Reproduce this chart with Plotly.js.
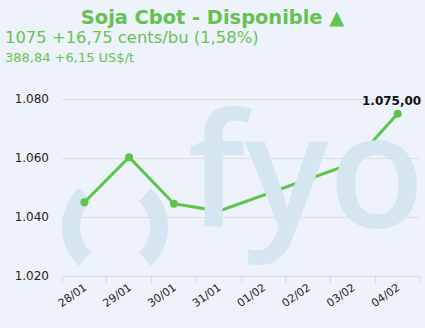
<!DOCTYPE html>
<html><head><meta charset="utf-8">
<script src="https://cdn.plot.ly/plotly-3.0.1.min.js"></script>
<style>html,body{margin:0;padding:0;background:#eef2fa}</style>
</head><body><div id="chart" style="width:425px;height:328px"></div>
<script>
const categories = ['28/01','29/01','30/01','31/01','01/02','02/02','03/02','04/02'];
const dates = ['28/01','29/01','30/01','31/01','03/02','04/02'];
const prices = [1045, 1060.25, 1044.5, 1042, 1058.25, 1075];
const yTicks = [1020, 1040, 1060, 1080];
const titleText = 'Soja Cbot - Disponible ▲';
const subLine1 = '1075 +16,75 cents/bu (1,58%)';
const subLine2 = '388,84 +6,15 US$/t';
const lastLabel = '1.075,00';

const L = 62, R = 420, T = 87, B = 276;
function px2paper(x, y) { return [(x - L) / (R - L), (B - y) / (B - T)]; }
function ringPath(cx, cy, r1, r2, a1, a2) {
  const pts = [];
  const n = 24;
  for (let i = 0; i <= n; i++) {
    const a = (a1 + (a2 - a1) * i / n) * Math.PI / 180;
    pts.push(px2paper(cx + r2 * Math.cos(a), cy - r2 * Math.sin(a)));
  }
  for (let i = n; i >= 0; i--) {
    const a = (a1 + (a2 - a1) * i / n) * Math.PI / 180;
    pts.push(px2paper(cx + r1 * Math.cos(a), cy - r1 * Math.sin(a)));
  }
  return 'M' + pts.map(p => p[0].toFixed(4) + ',' + p[1].toFixed(4)).join('L') + 'Z';
}
const wm = '#d5e6f0';
const shapes = [
  {type: 'path', xref: 'paper', yref: 'paper', layer: 'below', line: {width: 0}, fillcolor: wm,
   path: ringPath(115, 227, 35, 53, 133, 227)},
  {type: 'path', xref: 'paper', yref: 'paper', layer: 'below', line: {width: 0}, fillcolor: wm,
   path: ringPath(115, 227, 35, 53, -47, 47)}
];

const watermark = {
  x: [0.352], y: [0.465], xaxis: 'x2', yaxis: 'y2', mode: 'text', text: ['fyo'],
  textposition: 'middle right', hoverinfo: 'skip', showlegend: false, cliponaxis: true,
  textfont: {family: 'Open Sans', size: 157, color: wm, weight: 600}
};
const line = {
  x: dates, y: prices, mode: 'lines+markers', type: 'scatter', showlegend: false,
  line: {color: '#5cc44a', width: 3}, marker: {color: '#5cc44a', size: 8}
};

const layout = {
  width: 425, height: 328,
  margin: {l: L, r: 425 - R, t: T, b: 328 - B, pad: 0},
  paper_bgcolor: '#eef2fa', plot_bgcolor: '#eef2fa',
  separators: ',.',
  font: {family: 'DejaVu Sans', color: '#222'},
  title: {text: '<b>' + titleText + '</b>', x: 0.5, xanchor: 'center', y: 0.948, yanchor: 'middle',
          font: {family: 'DejaVu Sans', size: 19.4, color: '#64c24e'}},
  xaxis: {type: 'category', categoryorder: 'array', categoryarray: categories,
          tickvals: categories, range: [-0.5, 7.5], tickson: 'boundaries', ticks: 'outside',
          ticklen: 6, tickcolor: '#dcdcdc', showline: true, linecolor: '#dcdcdc', showgrid: false,
          tickangle: -35, tickfont: {size: 11, color: '#222'}, fixedrange: true},
  yaxis: {range: [1020, 1020 + (B - T) / 2.95], tickvals: yTicks, tickmode: 'array', tickformat: ',.0f',
          showgrid: true, gridcolor: '#dedede', zeroline: false,
          ticks: '', tickfont: {size: 12, color: '#222'}, ticklabelstandoff: 12, fixedrange: true},
  xaxis2: {overlaying: 'x', range: [0, 1], visible: false, fixedrange: true},
  yaxis2: {overlaying: 'y', range: [0, 1], visible: false, fixedrange: true},
  shapes: shapes,
  annotations: [
    {xref: 'paper', yref: 'paper', x: -62 / 358, y: (276 - 38) / 189, xanchor: 'left', yanchor: 'middle',
     text: subLine1, showarrow: false, font: {family: 'DejaVu Sans', size: 16.4, color: '#66c453'}, xshift: 3},
    {xref: 'paper', yref: 'paper', x: -62 / 358, y: (276 - 58) / 189, xanchor: 'left', yanchor: 'middle',
     text: subLine2, showarrow: false, font: {family: 'DejaVu Sans', size: 13, color: '#66c453'}, xshift: 3},
    {x: dates[dates.length - 1], y: prices[prices.length - 1], xref: 'x', yref: 'y', text: '<b>' + lastLabel + '</b>',
     showarrow: false, yanchor: 'bottom', yshift: 4, xshift: -6, font: {family: 'DejaVu Sans', size: 12, color: '#111'}}
  ]
};

Plotly.newPlot('chart', [watermark, line], layout, {displayModeBar: false, staticPlot: true});
</script></body></html>
